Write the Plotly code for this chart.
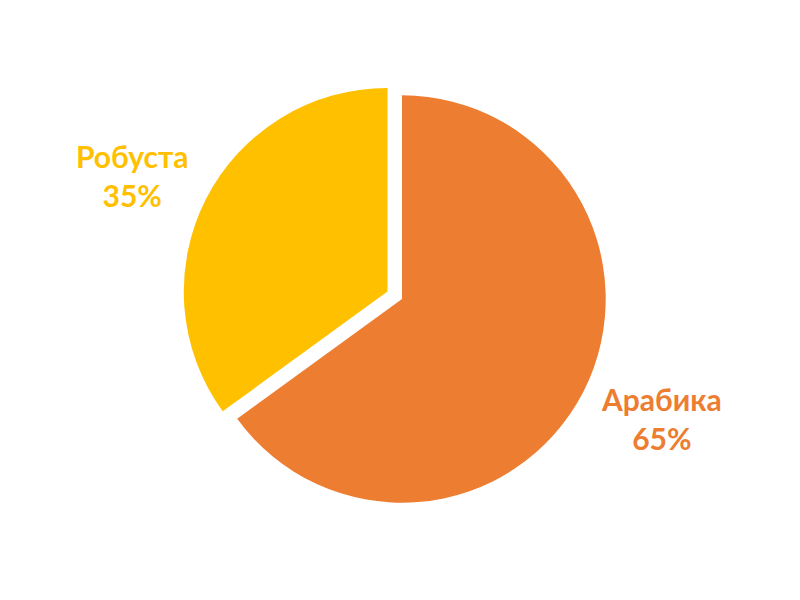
import plotly.graph_objects as go

labels = ["Арабика", "Робуста"]
values = [65, 35]
colors = ["#ED7D31", "#FFC000"]
pulls = [0, 0.08]

total = sum(values)
label_texts = [f"{l}<br>{round(v / total * 100)}%" for l, v in zip(labels, values)]
label_pos = [(653 / 800, 1 - 410 / 600), (124 / 800, 1 - 167 / 600)]

fig = go.Figure(go.Pie(
    labels=labels,
    values=values,
    sort=False,
    direction="clockwise",
    rotation=0,
    pull=pulls,
    marker=dict(colors=colors, line=dict(width=0)),
    textinfo="none",
    hoverinfo="label+percent",
    showlegend=False,
    domain=dict(x=[174 / 800, 614 / 800], y=[1 - 511 / 600, 1 - 71 / 600]),
))

for txt, c, (x, y) in zip(label_texts, colors, label_pos):
    fig.add_annotation(
        text=txt, x=x, y=y, xref="paper", yref="paper",
        xanchor="center", yanchor="middle", showarrow=False, align="center",
        font=dict(family="Lato, Open Sans, sans-serif", size=30, color=c, weight="bold"),
    )

fig.update_layout(
    width=800, height=600,
    margin=dict(l=0, r=0, t=0, b=0),
    paper_bgcolor="white",
    plot_bgcolor="white",
)

fig.write_html("out.html")
